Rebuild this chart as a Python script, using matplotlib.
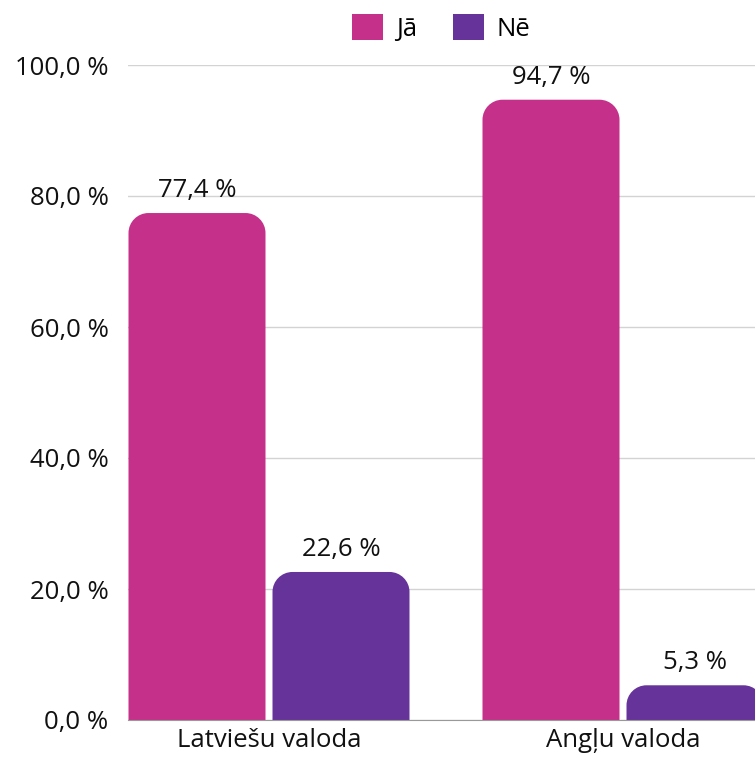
import numpy as np
import matplotlib
matplotlib.use('Agg')
import matplotlib.pyplot as plt
from matplotlib.path import Path
from matplotlib.patches import PathPatch, Patch

plt.rcParams['font.family'] = ['Open Sans', 'DejaVu Sans']

categories = ['Latviešu valoda', 'Angļu valoda']
series = ['Jā', 'Nē']
values_ja = [77.4, 94.7]
values_ne = [22.6, 5.3]
yticks = [0, 20, 40, 60, 80, 100]
colors = ['#C5318A', '#66339A']

fig = plt.figure(figsize=(7.55, 7.58), dpi=100)
ax = fig.add_axes([128 / 755, 38 / 758, 627 / 755, 655 / 758])

px_x = 354.0   # pixels per x unit
px_y = 6.55    # pixels per y unit
width = 137 / px_x
gap = 7 / px_x
off = (width + gap) / 2
fs = 18.5


def rounded_bar(ax, xc, h, w, color, r=20):
    rx = r / px_x
    ry = min(r / px_y, h)
    x0, x1 = xc - w / 2, xc + w / 2
    k = 0.5523
    verts = [
        (x0, 0), (x0, h - ry),
        (x0, h - ry + k * ry), (x0 + rx - k * rx, h), (x0 + rx, h),
        (x1 - rx, h),
        (x1 - rx + k * rx, h), (x1, h - ry + k * ry), (x1, h - ry),
        (x1, 0), (x0, 0),
    ]
    codes = [Path.MOVETO, Path.LINETO,
             Path.CURVE4, Path.CURVE4, Path.CURVE4,
             Path.LINETO,
             Path.CURVE4, Path.CURVE4, Path.CURVE4,
             Path.LINETO, Path.CLOSEPOLY]
    ax.add_patch(PathPatch(Path(verts, codes), facecolor=color, edgecolor='none', zorder=3))


x = np.arange(len(categories))
for vals, dx, col in [(values_ja, -off, colors[0]), (values_ne, off, colors[1])]:
    for xi, v in zip(x, vals):
        rounded_bar(ax, xi + dx, v, width, col)
        ax.text(xi + dx, v + 1.5, f'{v:.1f} %'.replace('.', ','), ha='center', va='bottom',
                fontsize=fs, color='#111111', clip_on=False)

ax.set_xlim(-141 / px_x, 486 / px_x)
ax.set_ylim(0, 100)
ax.set_yticks(yticks)
ax.set_yticklabels([f'{t:.1f} %'.replace('.', ',') for t in yticks], fontsize=fs, color='#111111')
ax.set_xticks(x)
ax.set_xticklabels(categories, fontsize=fs, color='#111111')
ax.tick_params(axis='y', length=0, pad=14)
ax.tick_params(axis='x', length=0, pad=6)
ax.grid(axis='y', color='#D3D3D3', linewidth=1, zorder=0)
for s in ['top', 'right', 'left']:
    ax.spines[s].set_visible(False)
ax.spines['bottom'].set_color('#999999')
ax.spines['bottom'].set_zorder(4)

handles = [Patch(facecolor=c, edgecolor='none') for c in colors]
fig.legend(handles, series, loc='center', bbox_to_anchor=(441 / 755, 1 - 28 / 758), ncol=2,
           frameon=False, fontsize=fs, handlelength=1.2, handleheight=1.2,
           handletextpad=0.5, columnspacing=1.4)

fig.savefig('out.png', dpi=100)
